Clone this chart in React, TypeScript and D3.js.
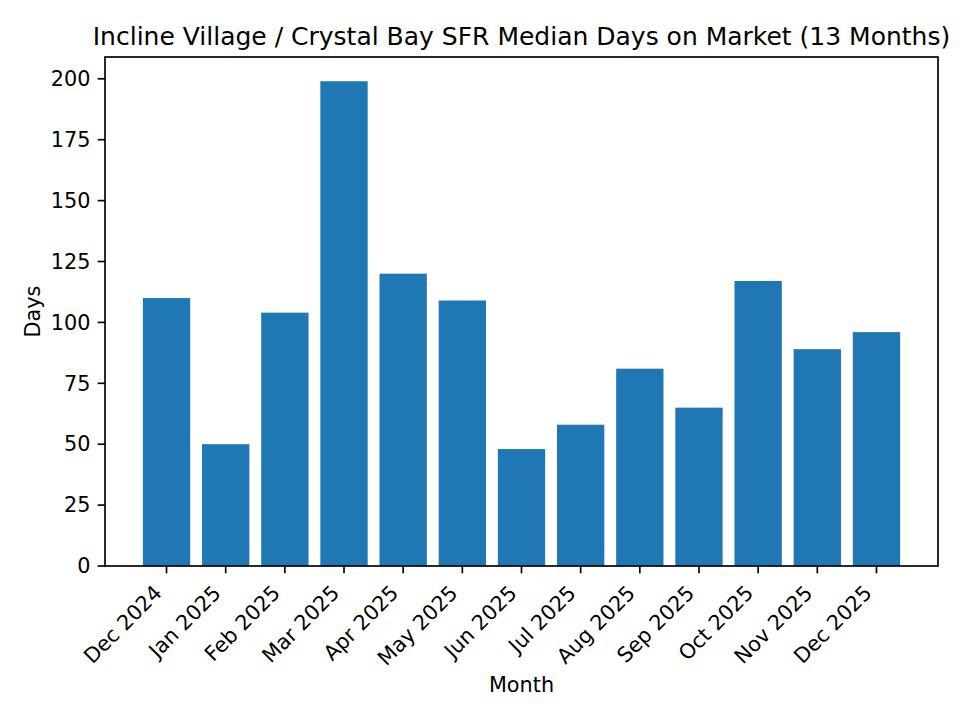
import React from "react";
import * as d3 from "d3";

const months = ["Dec 2024","Jan 2025","Feb 2025","Mar 2025","Apr 2025","May 2025","Jun 2025","Jul 2025","Aug 2025","Sep 2025","Oct 2025","Nov 2025","Dec 2025"];
const days = [110, 50, 104, 199, 120, 109, 48, 58, 81, 65, 117, 89, 96];
const yTicks = [0, 25, 50, 75, 100, 125, 150, 175, 200];

const W = 960, H = 720;
const L = 105, R = 938, T = 57, B = 566;
const FONT = "'DejaVu Sans', sans-serif";
const FS = 20.8;
const TICK = 7.3;
const PAD = 7.3;

export default function App() {
  const n = months.length;
  const barW = 0.8;
  const lo = -barW / 2, hi = n - 1 + barW / 2;
  const m = (hi - lo) * 0.05;
  const x = d3.scaleLinear().domain([lo - m, hi + m]).range([L, R]);
  const ymax = (d3.max(days) as number) * 1.05;
  const y = d3.scaleLinear().domain([0, ymax]).range([B, T]);
  const h = FS * 1.164;
  const off = 0.354 * h;
  const y0 = B + TICK + PAD;

  return (
    <svg width={W} height={H} style={{ position: "absolute", left: 0, top: 0 }} fontFamily={FONT}>
      <rect x={0} y={0} width={W} height={H} fill="#fff" />
      {days.map((d, i) => (
        <rect key={i} x={x(i - barW / 2)} y={y(d)} width={x(i + barW / 2) - x(i - barW / 2)} height={B - y(d)} fill="#1f77b4" />
      ))}
      <rect x={L} y={T} width={R - L} height={B - T} fill="none" stroke="#000" strokeWidth={1.67} />
      {yTicks.map((t) => (
        <g key={t}>
          <line x1={L - TICK} x2={L} y1={y(t)} y2={y(t)} stroke="#000" strokeWidth={1.67} />
          <text x={L - TICK - PAD} y={y(t)} dy="0.35em" textAnchor="end" fontSize={FS} fill="#000">{t}</text>
        </g>
      ))}
      {months.map((mo, i) => (
        <g key={mo}>
          <line x1={x(i)} x2={x(i)} y1={B} y2={B + TICK} stroke="#000" strokeWidth={1.67} />
          <text transform={`translate(${x(i) - off},${y0 + off}) rotate(-45)`} dy="0.346em" textAnchor="end" fontSize={FS} fill="#000">{mo}</text>
        </g>
      ))}
      <text x={(L + R) / 2} y={692} textAnchor="middle" fontSize={FS} fill="#000">Month</text>
      <text transform={`translate(40,${(T + B) / 2}) rotate(-90)`} textAnchor="middle" fontSize={FS} fill="#000">Days</text>
      <text x={(L + R) / 2} y={T - 12.5} textAnchor="middle" fontSize={25} fill="#000">Incline Village / Crystal Bay SFR Median Days on Market (13 Months)</text>
    </svg>
  );
}
